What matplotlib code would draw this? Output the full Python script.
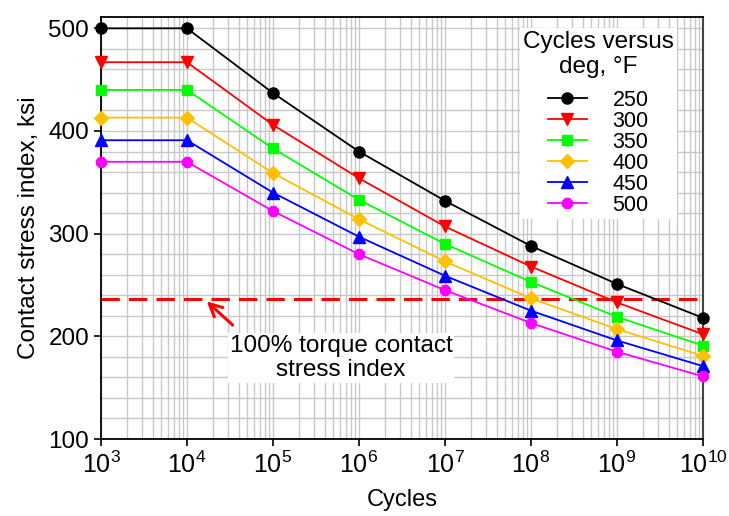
import matplotlib
matplotlib.use("Agg")
import matplotlib.pyplot as plt
import numpy as np
from matplotlib.ticker import LogLocator, MultipleLocator, NullFormatter

plt.rcParams['font.family'] = ['Liberation Sans', 'DejaVu Sans']
plt.rcParams['mathtext.fontset'] = 'custom'
plt.rcParams['mathtext.rm'] = 'Liberation Sans'
plt.rcParams['mathtext.it'] = 'Liberation Sans'
plt.rcParams['mathtext.default'] = 'regular'

cycles = [1e3, 1e4, 1e5, 1e6, 1e7, 1e8, 1e9, 1e10]
temps = ['250', '300', '350', '400', '450', '500']
s250 = [500, 500, 437, 380, 332, 288, 251, 218]
s300 = [467, 467, 406, 354, 307, 268, 233, 202]
s350 = [440, 440, 383, 333, 290, 253, 219, 191]
s400 = [413, 413, 359, 314, 273, 237, 207, 181]
s450 = [391, 391, 340, 297, 259, 225, 196, 171]
s500 = [370, 370, 322, 280, 245, 213, 185, 161]
series = [s250, s300, s350, s400, s450, s500]
ref_level = 236
yticks = [100, 200, 300, 400, 500]

colors = ['#000000', '#FF0000', '#00FF00', '#FFC000', '#0000FF', '#FF00FF']
markers = ['o', 'v', 's', 'D', '^', '8']
msizes = [8, 8, 7.5, 7.5, 8, 8.5]

fig = plt.figure(figsize=(7.29, 5.16), dpi=100)
ax = fig.add_axes([0.1385, 0.1492, 0.8258, 0.8178])

for vals, c, m, ms, lab in zip(series, colors, markers, msizes, temps):
    ax.plot(cycles, vals, color=c, marker=m, markersize=ms, lw=1.3,
            label=lab, zorder=3, clip_on=False)

ax.axhline(ref_level, color='#FF0000', lw=2.2, ls=(0, (6, 3)), zorder=2)

ax.set_xscale('log')
ax.set_xlim(1e3, 1e10)
ax.set_ylim(100, 511)
ax.set_xticks(cycles)
ax.set_xticklabels([r'$10^{%d}$' % int(np.log10(c)) for c in cycles])
ax.xaxis.set_minor_locator(LogLocator(base=10, subs=np.arange(2, 10), numticks=100))
ax.xaxis.set_minor_formatter(NullFormatter())
ax.set_yticks(yticks)
ax.yaxis.set_minor_locator(MultipleLocator(20))

ax.grid(True, which='both', color='#c8c8c8', lw=1.0, zorder=0)
ax.set_axisbelow(True)
ax.tick_params(axis='both', which='major', labelsize=17.5, length=5, width=1.2, direction='out')
ax.tick_params(axis='x', which='major', labelsize=18, pad=4)
ax.tick_params(axis='both', which='minor', length=0)

for s in ['left', 'bottom', 'top']:
    ax.spines[s].set_color('black')
    ax.spines[s].set_linewidth(1.3)
ax.spines['right'].set_color('#444444')
ax.spines['right'].set_linewidth(1.5)

ax.set_xlabel('Cycles', fontsize=17, labelpad=8)
ax.set_ylabel('Contact stress index, ksi', fontsize=17.5, labelpad=6)

ax.text(6.2e5, 179, '100% torque contact\nstress index', fontsize=17.5,
        ha='center', va='center', linespacing=1.1,
        bbox=dict(boxstyle='square,pad=0.08', fc='white', ec='none'), zorder=4)
ax.annotate('', xy=(1.7e4, 234), xytext=(3.4e4, 211),
            arrowprops=dict(arrowstyle='->,head_length=0.9,head_width=0.45',
                            color='#FF0000', lw=2.2, shrinkA=0, shrinkB=0),
            zorder=4)

leg = ax.legend(title='Cycles versus\ndeg, °F', loc='upper right',
                bbox_to_anchor=(0.975, 1.0), fontsize=15.5, title_fontsize=17.5,
                frameon=True, fancybox=False, edgecolor='none',
                facecolor='white', framealpha=1.0, handlelength=1.8,
                labelspacing=0.0, borderpad=0.15, handletextpad=1.2)
leg.get_title().set_multialignment('center')
leg._legend_box.sep = 8
leg.set_zorder(5)

fig.savefig('out.png', dpi=100)
